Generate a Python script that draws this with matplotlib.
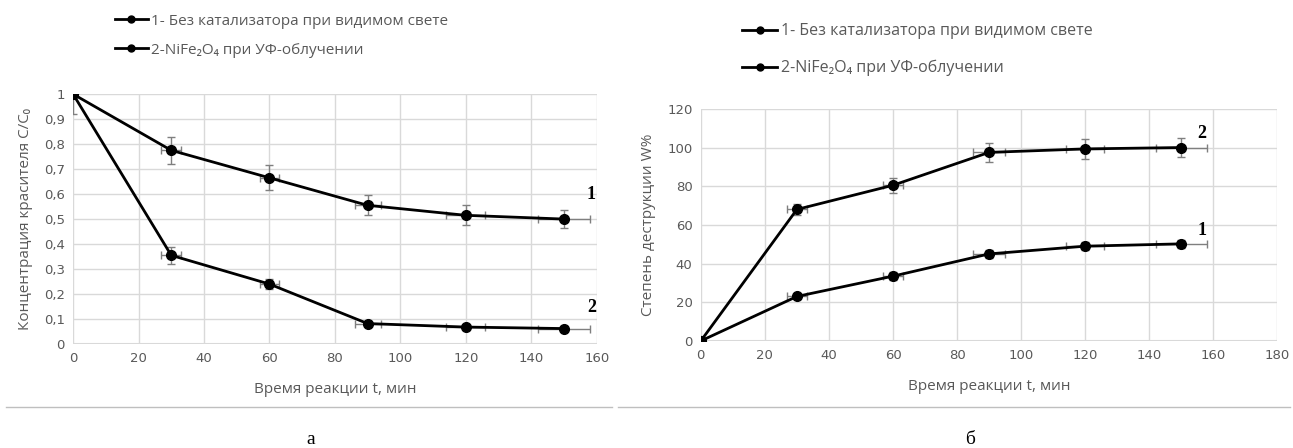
import matplotlib.pyplot as plt
from matplotlib.lines import Line2D

plt.rcParams['font.family'] = ['Liberation Sans Narrow', 'DejaVu Sans']

t = [0, 30, 60, 90, 120, 150]

# (a) concentration C/C0
conc_1 = [1.0, 0.775, 0.665, 0.555, 0.515, 0.50]
conc_1_yerr = [0.0, 0.055, 0.05, 0.04, 0.04, 0.035]
conc_2 = [1.0, 0.355, 0.24, 0.082, 0.068, 0.062]
conc_2_yerr = [0.08, 0.035, 0.02, 0.01, 0.01, 0.01]
conc_xerr = [0, 3, 3, 4, 6, 8]

# (b) degradation W%
deg_1 = [0, 23, 33.5, 45, 49, 50.2]
deg_1_yerr = [0, 1.5, 2, 2, 2, 2]
deg_2 = [0, 68, 80.5, 97.5, 99.3, 100]
deg_2_yerr = [0, 3, 4, 5, 5, 5]
deg_xerr = [0, 3, 3, 5, 6, 8]

x_ticks_a = list(range(0, 161, 20))
y_ticks_a = [0, 0.1, 0.2, 0.3, 0.4, 0.5, 0.6, 0.7, 0.8, 0.9, 1.0]
y_labels_a = ["0", "0,1", "0,2", "0,3", "0,4", "0,5", "0,6", "0,7", "0,8", "0,9", "1"]
x_ticks_b = list(range(0, 181, 20))
y_ticks_b = list(range(0, 121, 20))

leg_1 = "1- Без катализатора при видимом свете"
leg_2 = "2-NiFe₂O₄ при УФ-облучении"

grid_c = "#d9d9d9"
txt_c = "#595959"

fig = plt.figure(figsize=(12.93, 4.48), dpi=100)


def style(ax):
    for s in ax.spines.values():
        s.set_visible(False)
    ax.grid(True, color=grid_c, linewidth=1)
    ax.set_axisbelow(True)
    ax.tick_params(length=0, labelsize=9.5, colors=txt_c, pad=6)
    ax.axhline(ax.get_ylim()[0], color=grid_c, linewidth=1.5, zorder=0)


def draw(ax, y, yerr, xerr):
    ax.errorbar(t, y, yerr=yerr, xerr=xerr, fmt="none", ecolor="#7f7f7f",
                elinewidth=1, capsize=3, zorder=2)
    ax.plot(t, y, color="black", linewidth=2, marker="o", markersize=7, zorder=3)


ax1 = fig.add_axes([0.0565, 0.232, 0.405, 0.558])
draw(ax1, conc_1, conc_1_yerr, conc_xerr)
draw(ax1, conc_2, conc_2_yerr, conc_xerr)
ax1.set_xlim(0, 160)
ax1.set_ylim(0, 1)
ax1.set_xticks(x_ticks_a)
ax1.set_yticks(y_ticks_a, y_labels_a)
style(ax1)
ax1.set_ylabel("Концентрация красителя С/С₀", fontsize=11, color=txt_c,
               family=['Open Sans', 'DejaVu Sans'], labelpad=8)
ax1.set_xlabel("Время реакции t, мин", fontsize=11, color=txt_c, labelpad=12,
               family=['Open Sans', 'DejaVu Sans'])
ax1.text(157, 0.58, "1", family="Liberation Serif", fontweight="bold", fontsize=13)
ax1.text(157, 0.13, "2", family="Liberation Serif", fontweight="bold", fontsize=13)

ax2 = fig.add_axes([0.542, 0.239, 0.446, 0.518])
draw(ax2, deg_1, deg_1_yerr, deg_xerr)
draw(ax2, deg_2, deg_2_yerr, deg_xerr)
ax2.set_xlim(0, 180)
ax2.set_ylim(0, 120)
ax2.set_xticks(x_ticks_b)
ax2.set_yticks(y_ticks_b)
style(ax2)
ax2.set_ylabel("Степень деструкции W%", fontsize=11, color=txt_c,
               family=['Open Sans', 'DejaVu Sans'], labelpad=8)
ax2.set_xlabel("Время реакции t, мин", fontsize=11, color=txt_c, labelpad=12,
               family=['Open Sans', 'DejaVu Sans'])
ax2.text(155, 105, "2", family="Liberation Serif", fontweight="bold", fontsize=13)
ax2.text(155, 55, "1", family="Liberation Serif", fontweight="bold", fontsize=13)

handles = [Line2D([], [], color="black", linewidth=2, marker="o", markersize=5)] * 2
fig.legend(handles, [leg_1, leg_2], loc="upper left", bbox_to_anchor=(0.078, 1.0),
           frameon=False, labelcolor=txt_c, handlelength=2.2,
           handletextpad=0.2, labelspacing=0.9,
           prop={'family': ['Open Sans', 'DejaVu Sans'], 'size': 11})
fig.legend(handles, [leg_1, leg_2], loc="upper left", bbox_to_anchor=(0.563, 0.98),
           frameon=False, labelcolor=txt_c, handlelength=2.2,
           handletextpad=0.2, labelspacing=1.3,
           prop={'family': ['Open Sans', 'DejaVu Sans'], 'size': 11.5})

fig.add_artist(Line2D([0.005, 0.473], [0.092, 0.092], color="#bfbfbf", linewidth=1))
fig.add_artist(Line2D([0.478, 0.998], [0.092, 0.092], color="#bfbfbf", linewidth=1))
fig.text(0.24, 0.01, "а", fontsize=14, ha="center", family="Liberation Serif")
fig.text(0.75, 0.01, "б", fontsize=14, ha="center", family="Liberation Serif")

fig.savefig("out.png", dpi=100)
